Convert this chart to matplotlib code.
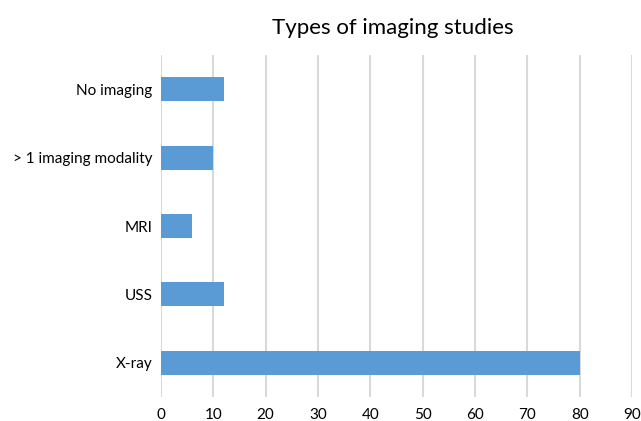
import matplotlib
matplotlib.use("Agg")
import matplotlib.pyplot as plt

categories = ["No imaging", "> 1 imaging modality", "MRI", "USS", "X-ray"]
values = [12, 10, 6, 12, 80]
xticks = [0, 10, 20, 30, 40, 50, 60, 70, 80, 90]

plt.rcParams['font.family'] = ['Lato', 'DejaVu Sans']

fig = plt.figure(figsize=(6.41, 4.21), dpi=100)
ax = fig.add_axes([161/641, 1-397/421, (632-161)/641, (397-55)/421])

n = len(categories)
ypos = list(range(n))[::-1]
ax.barh(ypos, values, height=0.35, color="#5b9bd5", zorder=3)
ax.set_ylim(-0.5, n-0.5)
ax.set_xlim(0, 90)
ax.set_xticks(xticks)
ax.set_xticklabels([str(t) for t in xticks], fontsize=11)
ax.set_yticks(ypos)
ax.set_yticklabels(categories, fontsize=11)
ax.grid(axis='x', color="#d9d9d9", linewidth=1.5, zorder=0)
for s in ax.spines.values():
    s.set_visible(False)
ax.tick_params(length=0, pad=6)
ax.tick_params(axis='x', pad=8)
fig.text(393/641, 1-28/421, "Types of imaging studies", ha='center', va='center', fontsize=16)

fig.savefig("out.png", dpi=100)
